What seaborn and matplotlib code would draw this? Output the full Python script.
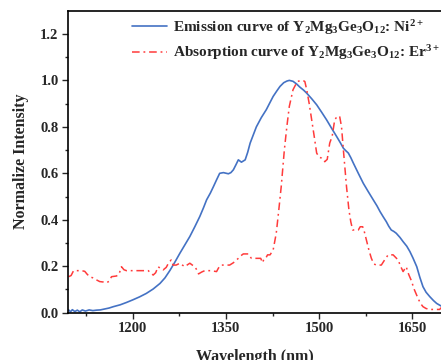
import numpy as np
import pandas as pd
import matplotlib
matplotlib.use("Agg")
import matplotlib.pyplot as plt
import seaborn as sns

# ---- data ----
emission_wl = [1097, 1100, 1103, 1107, 1111, 1115, 1119, 1124, 1130, 1136, 1142, 1148, 1155,
               1162, 1169, 1180, 1190, 1200, 1211, 1222, 1233, 1244, 1252, 1260, 1268, 1276,
               1284, 1292, 1300, 1308, 1314, 1319, 1325, 1330, 1335, 1340, 1346, 1354, 1358,
               1362, 1366, 1370, 1375, 1381, 1385, 1389, 1394, 1399, 1407, 1415, 1420, 1426,
               1432, 1437, 1443, 1448, 1452, 1458, 1464, 1469, 1475, 1480, 1488, 1496, 1504,
               1512, 1520, 1528, 1534, 1539, 1543, 1547, 1551, 1555, 1563, 1571, 1579, 1587,
               1593, 1598, 1603, 1608, 1612, 1616, 1620, 1624, 1630, 1635, 1641, 1646, 1651,
               1657, 1662, 1667, 1672, 1678, 1684, 1689, 1696]
emission_int = [0.012, 0.004, 0.013, 0.005, 0.011, 0.004, 0.012, 0.007, 0.012, 0.009, 0.011,
                0.012, 0.016, 0.020, 0.026, 0.034, 0.044, 0.055, 0.068, 0.083, 0.102, 0.126,
                0.150, 0.182, 0.218, 0.256, 0.292, 0.328, 0.370, 0.414, 0.452, 0.486, 0.515,
                0.543, 0.572, 0.600, 0.603, 0.598, 0.603, 0.615, 0.636, 0.658, 0.648, 0.658,
                0.690, 0.730, 0.765, 0.800, 0.840, 0.874, 0.900, 0.931, 0.955, 0.974, 0.990,
                0.997, 1.000, 0.996, 0.984, 0.971, 0.958, 0.945, 0.921, 0.895, 0.863, 0.830,
                0.794, 0.759, 0.732, 0.708, 0.697, 0.687, 0.667, 0.644, 0.600, 0.557, 0.521,
                0.486, 0.460, 0.435, 0.413, 0.392, 0.372, 0.356, 0.350, 0.342, 0.324, 0.306,
                0.286, 0.263, 0.235, 0.198, 0.152, 0.112, 0.088, 0.069, 0.052, 0.040, 0.029]

absorption_wl = [1097, 1101, 1105, 1112, 1118, 1123, 1127, 1131, 1136, 1142, 1147, 1153, 1158,
                 1162, 1166, 1174, 1178, 1182, 1186, 1190, 1200, 1212, 1220, 1225, 1229, 1233,
                 1237, 1241, 1245, 1249, 1254, 1258, 1262, 1265, 1270, 1276, 1280, 1284, 1288,
                 1292, 1296, 1300, 1303, 1306, 1311, 1316, 1325, 1335, 1338, 1342, 1348, 1356,
                 1362, 1370, 1374, 1378, 1386, 1391, 1400, 1406, 1409, 1411, 1414, 1417, 1421,
                 1426, 1431, 1435, 1439, 1444, 1448, 1452, 1458, 1465, 1474, 1477, 1480, 1484,
                 1488, 1492, 1496, 1500, 1504, 1509, 1513, 1517, 1521, 1525, 1529, 1533, 1536,
                 1539, 1544, 1548, 1551, 1554, 1563, 1566, 1570, 1572, 1576, 1580, 1584, 1588,
                 1592, 1600, 1606, 1611, 1619, 1623, 1627, 1631, 1635, 1640, 1644, 1648, 1653,
                 1659, 1663, 1667, 1672, 1678, 1694, 1696]
absorption_int = [0.155, 0.160, 0.181, 0.181, 0.181, 0.178, 0.165, 0.155, 0.150, 0.141, 0.134,
                  0.132, 0.129, 0.135, 0.155, 0.158, 0.165, 0.198, 0.185, 0.181, 0.181, 0.181,
                  0.181, 0.181, 0.172, 0.162, 0.172, 0.198, 0.190, 0.184, 0.195, 0.215, 0.227,
                  0.205, 0.205, 0.213, 0.205, 0.198, 0.206, 0.213, 0.205, 0.198, 0.185, 0.167,
                  0.175, 0.181, 0.181, 0.177, 0.192, 0.205, 0.205, 0.205, 0.215, 0.234, 0.245,
                  0.253, 0.253, 0.234, 0.234, 0.234, 0.215, 0.230, 0.234, 0.249, 0.249, 0.270,
                  0.342, 0.440, 0.543, 0.700, 0.800, 0.888, 0.960, 0.996, 1.000, 0.995, 0.960,
                  0.900, 0.830, 0.760, 0.687, 0.670, 0.665, 0.650, 0.660, 0.730, 0.760, 0.830,
                  0.845, 0.845, 0.800, 0.700, 0.543, 0.440, 0.390, 0.356, 0.356, 0.370, 0.370,
                  0.356, 0.313, 0.270, 0.234, 0.210, 0.205, 0.205, 0.230, 0.249, 0.249, 0.238,
                  0.227, 0.200, 0.177, 0.198, 0.165, 0.140, 0.100, 0.062, 0.040, 0.026, 0.018,
                  0.014, 0.014, 0.022]

xticks = [1200, 1350, 1500, 1650]
yticks = [0.0, 0.2, 0.4, 0.6, 0.8, 1.0, 1.2]
label_em = r"Emission curve of Y$_2$Mg$_3$Ge$_3$O$_{12}$: Ni$^{2+}$"
label_ab = r"Absorption curve of Y$_2$Mg$_3$Ge$_3$O$_{12}$: Er$^{3+}$"

sns.set_theme(style="ticks")
plt.rcParams["font.family"] = ["Liberation Serif", "DejaVu Serif"]
plt.rcParams["font.weight"] = "bold"
plt.rcParams["mathtext.fontset"] = "custom"
plt.rcParams["mathtext.rm"] = "Liberation Serif:bold"
plt.rcParams["mathtext.it"] = "Liberation Serif:bold"
plt.rcParams["mathtext.bf"] = "Liberation Serif:bold"

em = pd.DataFrame({"wl": emission_wl, "I": emission_int})
ab = pd.DataFrame({"wl": absorption_wl, "I": absorption_int})

fig = plt.figure(figsize=(4.41, 3.60), dpi=100)
ax = fig.add_axes([68.3 / 441, 1 - 312.7 / 360, (441 - 68.3) / 441, (312.7 - 10.7) / 360])

sns.lineplot(data=em, x="wl", y="I", ax=ax, color="#4472C4", linewidth=1.2,
             label=label_em, sort=False)
sns.lineplot(data=ab, x="wl", y="I", ax=ax, color="#FF3B3B", linewidth=1.1,
             label=label_ab, sort=False)
ax.lines[1].set_dashes([5, 2.5, 1.2, 2.5])

ax.set_xlim(1096.5, 1696)
ax.set_ylim(0, 1.3)
ax.set_xticks(xticks)
ax.set_xticks([1125, 1275, 1425, 1575], minor=True)
ax.set_yticks(yticks)
ax.set_yticks(np.arange(0.1, 1.3, 0.2), minor=True)
ax.set_yticklabels([f"{v:.1f}" for v in yticks])
ax.tick_params(axis="both", which="major", direction="out", length=4, width=1.0,
               labelsize=10.5, pad=3)
ax.tick_params(axis="both", which="minor", direction="out", length=2.5, width=1.0)
for lab in ax.get_xticklabels() + ax.get_yticklabels():
    lab.set_fontweight("bold")

for s in ["left", "bottom", "top"]:
    ax.spines[s].set_linewidth(1.2)
    ax.spines[s].set_color("black")
ax.spines["right"].set_visible(False)

ax.set_xlabel("Wavelength (nm)", fontsize=11.5, fontweight="bold", labelpad=10)
ax.set_ylabel("Normalize Intensity", fontsize=11.5, fontweight="bold", labelpad=8)

leg = ax.legend(loc="upper right", frameon=False, fontsize=11, handlelength=2.3,
                handletextpad=0.35, labelspacing=0.45, borderaxespad=0.0, borderpad=0.1,
                bbox_to_anchor=(1.0, 0.982))

fig.savefig("out.png", dpi=100)
